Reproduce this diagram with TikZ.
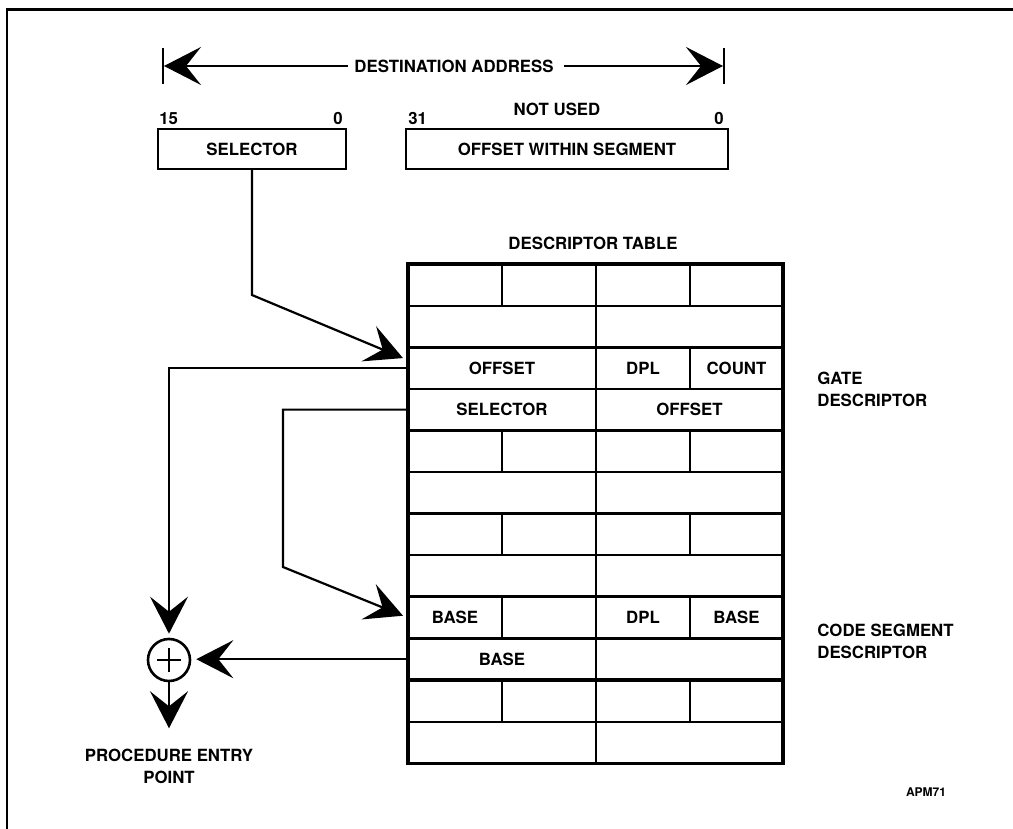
\documentclass[tikz,border=0pt]{standalone}
\usepackage{fontspec}
\setmainfont{TeX Gyre Heros}
\usetikzlibrary{arrows.meta, positioning, calc}
\tikzset{
  lbl/.style={font=\fontsize{8.4}{11}\selectfont\bfseries, inner sep=0pt},
  regbox/.style={rectangle, draw, line width=1pt, minimum height=20pt, lbl},
  cell/.style={lbl, minimum height=20.8pt, minimum width=#1},
  cell/.default=47pt,
  bigarrow/.style={-{Stealth[length=18.5pt, width=19pt, inset=7.5pt]}, line width=1.1pt},
  thinline/.style={line width=1.1pt},
  thickline/.style={line width=1.6pt}
}

\begin{document}
\begin{tikzpicture}[x=0.5pt, y=-0.5pt]
    \useasboundingbox (0,0) rectangle (1013,829);
    \draw[thinline] (7,829) -- (7,9.5) -- (1013,9.5);
    % destination address
    \node[lbl] (dest) at (454,66) {DESTINATION ADDRESS};
    \draw[thinline] (163,48) -- (163,84);
    \draw[thinline] (724,48) -- (724,84);
    \coordinate (dl) at (164,66);
    \coordinate (dr) at (723,66);
    \draw[bigarrow] ([xshift=-3pt]dest.west) -- (dl);
    \draw[bigarrow] ([xshift=5pt]dest.east) -- (dr);
    % registers
    \node[regbox, minimum width=94pt]  (sel) at (252,149) {SELECTOR};
    \node[regbox, minimum width=161pt] (ofs) at (567,149) {OFFSET WITHIN SEGMENT};
    \node[lbl, above right=1.5pt and 1pt of sel.north west]   (s15) {15};
    \node[lbl, above left=1.5pt and 2pt of sel.north east]    (s0)  {0};
    \node[lbl, above right=1.5pt and 1.5pt of ofs.north west] (o31) {31};
    \node[lbl, above left=1.5pt and 2.5pt of ofs.north east]  (o0)  {0};
    \node[lbl] (unused) at (557,109) {NOT USED};
    % descriptor table
    \node[lbl] (dtab) at (593,243) {DESCRIPTOR TABLE};
    \draw[thinline] (596,264) -- (596,763.2);
    \foreach \y in {305.6,388.8,472,555.2,638.4,721.6}
      \draw[thinline] (408,\y) -- (783,\y);
    \foreach \y in {347.2,430.4,513.6,596.8,680}
      \draw[thickline] (408,\y) -- (783,\y);
    \foreach \y in {264,430.4,513.6,596.8,680}
      \draw[thinline] (502,\y) -- ++(0,41.6);
    \foreach \y in {264,347.2,430.4,513.6,596.8,680}
      \draw[thinline] (690,\y) -- ++(0,41.6);
    \draw[thickline] (408,264) rectangle (783,763.2);
    % gate descriptor
    \node[cell=94pt]   (gofs)  at (502,368)     {OFFSET};
    \node[cell]        (gdpl)  at (643,368)     {DPL};
    \node[cell]        (gcnt)  at (736.5,368)   {COUNT};
    \node[cell=94pt]   (gsel)  at (502,409.6)   {SELECTOR};
    \node[cell=93.5pt] (gofs2) at (689.5,409.6) {OFFSET};
    % code segment descriptor
    \node[cell]      (cb1)  at (455,617.6)   {BASE};
    \node[cell]      (cdpl) at (643,617.6)   {DPL};
    \node[cell]      (cb2)  at (736.5,617.6) {BASE};
    \node[cell=94pt] (cb3)  at (502,659.2)   {BASE};
    \node[lbl, anchor=west, align=left] (gate) at (817,389) {GATE\\DESCRIPTOR};
    \node[lbl, anchor=west, align=left] (code) at (817,641) {CODE SEGMENT\\DESCRIPTOR};
    % adder and entry point
    \node[circle, draw, line width=1.3pt, minimum size=21pt, inner sep=0pt] (sum) at (169,660) {};
    \draw[thinline] (sum.center) ++(-12,0) -- ++(24,0);
    \draw[thinline] (sum.center) ++(0,-12) -- ++(0,24);
    \node[lbl, align=center] (entry) at (169,766) {PROCEDURE ENTRY\\POINT};
    \node[lbl, font=\fontsize{6}{7}\selectfont\bfseries] (apm) at (926,792) {APM71};
    % connectors
    \coordinate (gin) at ([yshift=4pt]gofs.west);
    \draw[bigarrow, shorten >=2.5pt] (sel.south) -- (252,295) -- (gin);
    \draw[bigarrow, shorten >=2pt] (gofs.west) -| (sum.north);
    \draw[bigarrow, shorten >=2.5pt] (gsel.west) -| (283,567) -- (cb1.west);
    \draw[bigarrow, shorten >=2.5pt] (cb3.west) -- (cb3.west -| sum.east);
    \draw[bigarrow, shorten >=10pt] (sum.south) -- (entry.north);
\end{tikzpicture}
\end{document}
